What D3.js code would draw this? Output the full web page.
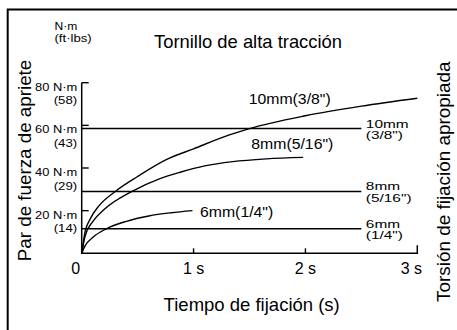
<!DOCTYPE html>
<html>
<head>
<meta charset="utf-8">
<script src="https://cdn.jsdelivr.net/npm/d3@7"></script>
<style>
  body { margin: 0; background: #fff; }
  text { font-family: "Liberation Sans", Arial, sans-serif; fill: #000; }
</style>
</head>
<body>
<div id="chart"></div>
<script>
// torque in N·m, time in s
const yTicks = [20, 40, 60, 80]
const yTicksFtLbs = [14, 29, 43, 58]
const xTicks = [0, 1, 2, 3]
const xTickLabels = ['0', '1 s', '2 s', '3 s']

const curveNames = ['10mm(3/8")', '8mm(5/16")', '6mm(1/4")']
const curve10 = [[0, 0], [0.03, 10], [0.08, 16.5], [0.15, 22], [0.3, 29], [0.5, 36], [0.76, 44], [1.0, 49],
    [1.32, 55.5], [1.5, 58.5], [2.0, 64.5], [2.5, 69], [3.0, 72.7]]
const curve8 = [[0, 0], [0.03, 8], [0.1, 15], [0.2, 20.5], [0.45, 29], [0.7, 35], [0.88, 38], [1.1, 41],
    [1.35, 43], [1.65, 44.3], [1.98, 45]]
const curve6 = [[0, 0], [0.03, 3.5], [0.1, 7.5], [0.22, 11.5], [0.4, 15], [0.6, 17.5], [0.8, 19], [0.99, 20]]

const limitNames = [['10mm', '(3/8")'], ['8mm', '(5/16")'], ['6mm', '(1/4")']]
const limitValues = [58.5, 29, 11.5]
const limitEnd = 2.5

const width = 457, height = 330

const x = d3.scaleLinear().domain([0, 3]).range([81.7, 417.3])
const y = d3.scaleLinear().domain([0, 80]).range([253.3, 82.7])

const svg = d3.select('#chart').append('svg')
    .attr('width', width)
    .attr('height', height)

// helper for the slightly wide lettering of the original
const label = (g, str, px, py, size, anchor, sx = 1, sy = 1) => g.append('text')
    .attr('transform', `translate(${px},${py}) scale(${sx},${sy})`)
    .attr('text-anchor', anchor)
    .style('font-size', size + 'px')
    .text(str)

// frame (top and left edge only visible)
svg.append('path')
    .attr('d', 'M7.7,330V9.5H457')
    .attr('fill', 'none')
    .attr('stroke', '#000')
    .attr('stroke-width', 2)

const g = svg.append('g')

// axes
g.append('path')
    .attr('d', `M${x(0)},${y(80)}V${y(0)}H${x(3)}V${y(0) - 8}`)
    .attr('fill', 'none')
    .attr('stroke', '#000')
    .attr('stroke-width', 1.5)

g.selectAll('.ytick')
    .data(yTicks)
    .enter()
    .append('line')
    .attr('x1', x(0))
    .attr('x2', x(0) + 7)
    .attr('y1', d => y(d))
    .attr('y2', d => y(d))
    .attr('stroke', '#000')
    .attr('stroke-width', 1.4)

g.selectAll('.xtick')
    .data(xTicks.slice(1, 3))
    .enter()
    .append('line')
    .attr('x1', d => x(d))
    .attr('x2', d => x(d))
    .attr('y1', y(0))
    .attr('y2', y(0) - 5)
    .attr('stroke', '#000')
    .attr('stroke-width', 1.4)

yTicks.forEach((v, i) => {
    label(g, v + ' N·m', x(0) - 4.5, y(v) + 8, 11.5, 'end', 1.12)
    label(g, '(' + yTicksFtLbs[i] + ')', x(0) - 4.5, y(v) + 21.5, 11.5, 'end', 1.15)
})

xTicks.forEach((v, i) => {
    const shift = (i === 0 || i === xTicks.length - 1) ? -6 : 0
    label(g, xTickLabels[i], x(v) + shift, 273.5, 16, 'middle')
})

label(svg, 'N·m', 54.5, 30, 10.5, 'start', 1.15)
label(svg, '(ft·lbs)', 54.5, 41.5, 10.5, 'start', 1.25)

// titles
label(svg, 'Tornillo de alta tracción', 248, 48, 18.4, 'middle')
label(svg, 'Tiempo de fijación (s)', 251.7, 311, 18.5, 'middle')
svg.append('text')
    .attr('transform', 'translate(31,160.5) rotate(-90)')
    .attr('text-anchor', 'middle')
    .style('font-size', '18.8px')
    .text('Par de fuerza de apriete')
svg.append('text')
    .attr('transform', 'translate(450,181.7) rotate(-90)')
    .attr('text-anchor', 'middle')
    .style('font-size', '18.9px')
    .text('Torsión de fijación apropiada')

// appropriate torque lines
limitValues.forEach((v, i) => {
    g.append('line')
        .attr('x1', x(0))
        .attr('x2', x(limitEnd))
        .attr('y1', y(v))
        .attr('y2', y(v))
        .attr('stroke', '#000')
        .attr('stroke-width', 1.4)
    label(g, limitNames[i][0], x(limitEnd) + 4.5, y(v) - 1, 14, 'start', 1.1, 0.74)
    label(g, limitNames[i][1], x(limitEnd) + 4.5, y(v) + 10.5, 14, 'start', 1.1, 0.74)
})

// tightening curves
const line = d3.line()
    .x(d => x(d[0]))
    .y(d => y(d[1]))
    .curve(d3.curveMonotoneX)

g.selectAll('.curve')
    .data([curve10, curve8, curve6])
    .enter()
    .append('path')
    .attr('d', line)
    .attr('fill', 'none')
    .attr('stroke', '#000')
    .attr('stroke-width', 1.4)

const curveLabelPos = [[248.7, 104.3], [251.3, 148.7], [200, 216.7]]
curveNames.forEach((n, i) => label(g, n, curveLabelPos[i][0], curveLabelPos[i][1], 14, 'start', 1.13))
</script>
</body>
</html>
